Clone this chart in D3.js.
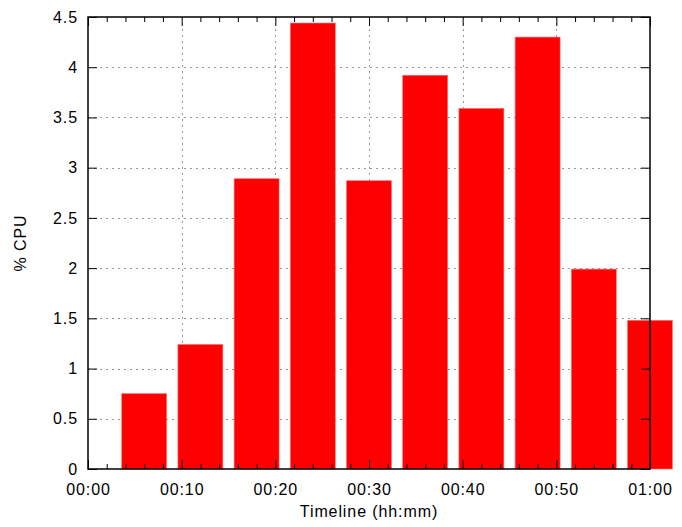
<!DOCTYPE html>
<html>
<head>
<meta charset="utf-8">
<script src="https://cdn.jsdelivr.net/npm/d3@7"></script>
<style>
  html, body { margin: 0; padding: 0; background: #fff; }
  svg { display: block; }
  text { font-family: "Liberation Sans", Arial, Helvetica, sans-serif; }
</style>
</head>
<body>
<svg id="chart" width="682" height="527"></svg>
<script>
// ---- data ----
const times = ["00:06", "00:12", "00:18", "00:24", "00:30", "00:36", "00:42", "00:48", "00:54", "01:00"];
const cpu = [0.75, 1.24, 2.89, 4.44, 2.87, 3.92, 3.59, 4.30, 1.99, 1.48];
const xTickLabels = ["00:00", "00:10", "00:20", "00:30", "00:40", "00:50", "01:00"];
const yTicks = [0, 0.5, 1, 1.5, 2, 2.5, 3, 3.5, 4, 4.5];
const xMinorLabels = ["00:02","00:04","00:06","00:08","00:12","00:14","00:16","00:18","00:22","00:24","00:26","00:28",
  "00:32","00:34","00:36","00:38","00:42","00:44","00:46","00:48","00:52","00:54","00:56","00:58"];
const xTitle = "Timeline (hh:mm)";
const yTitle = "% CPU";

// ---- layout ----
const svg = d3.select("#chart");
const m = { left: 88, right: 650, top: 17, bottom: 469 };
const parse = d3.utcParse("%H:%M");
const fmt = d3.utcFormat("%H:%M");
const FS = 16, LS = "0.9px";

const x = d3.scaleUtc().domain([parse("00:00"), parse("01:00")]).range([m.left, m.right]);
const y = d3.scaleLinear().domain([0, 4.5]).range([m.bottom, m.top]);

const xMajor = xTickLabels.map(parse);
const xMinor = xMinorLabels.map(parse);
const slot = 6 * 60 * 1000; // 6-minute sampling interval
const barW = x(new Date(slot * 0.8)) - x(new Date(0));

// ---- grid ----
const grid = svg.append("g").attr("stroke", "#9a9a9a").attr("stroke-width", 1).attr("stroke-dasharray", "2,4");
grid.selectAll("line.h").data(yTicks.filter(v => v > 0 && v < 4.5)).join("line")
  .attr("x1", m.left).attr("x2", m.right)
  .attr("y1", d => Math.round(y(d)) + 0.5).attr("y2", d => Math.round(y(d)) + 0.5);
grid.selectAll("line.v").data(xMajor.slice(1, -1)).join("line")
  .attr("y1", m.top).attr("y2", m.bottom)
  .attr("x1", d => Math.round(x(d)) + 0.5).attr("x2", d => Math.round(x(d)) + 0.5);

// ---- bars ----
svg.append("g").selectAll("rect").data(times.map((t, i) => ({ t: parse(t), v: cpu[i] }))).join("rect")
  .attr("x", d => x(d.t) - barW / 2)
  .attr("width", barW)
  .attr("y", d => y(d.v))
  .attr("height", d => y(0) - y(d.v))
  .attr("fill", "#ff0000")
  .attr("stroke", "#ff7070")
  .attr("stroke-width", 0.6);

// ---- axes (ticks inward, mirrored) ----
function styleAxis(g) {
  g.select(".domain").remove();
  g.selectAll(".tick line").attr("stroke", "#000").attr("stroke-width", 1);
  g.selectAll("text").attr("font-size", FS).attr("letter-spacing", LS).attr("fill", "#000");
}

svg.append("g").attr("transform", `translate(0,${m.bottom})`)
  .call(d3.axisBottom(x).tickValues(xMajor).tickFormat(fmt).tickSize(-9).tickPadding(15))
  .call(styleAxis);
svg.append("g").attr("transform", `translate(0,${m.bottom})`)
  .call(d3.axisBottom(x).tickValues(xMinor).tickFormat("").tickSize(-5))
  .call(styleAxis);
svg.append("g").attr("transform", `translate(0,${m.top})`)
  .call(d3.axisTop(x).tickValues(xMajor).tickFormat("").tickSize(-9))
  .call(styleAxis);
svg.append("g").attr("transform", `translate(0,${m.top})`)
  .call(d3.axisTop(x).tickValues(xMinor).tickFormat("").tickSize(-5))
  .call(styleAxis);
svg.append("g").attr("transform", `translate(${m.left},0)`)
  .call(d3.axisLeft(y).tickValues(yTicks).tickFormat(d3.format("")).tickSize(-9).tickPadding(10))
  .call(styleAxis);
svg.append("g").attr("transform", `translate(${m.right},0)`)
  .call(d3.axisRight(y).tickValues(yTicks).tickFormat("").tickSize(-9))
  .call(styleAxis);

// ---- frame ----
svg.append("rect")
  .attr("x", m.left).attr("y", m.top)
  .attr("width", m.right - m.left).attr("height", m.bottom - m.top)
  .attr("fill", "none").attr("stroke", "#000").attr("stroke-width", 1.5);

// ---- titles ----
svg.append("text").attr("x", (m.left + m.right) / 2).attr("y", 517)
  .attr("text-anchor", "middle").attr("font-size", FS).attr("letter-spacing", LS)
  .text(xTitle);
svg.append("text").attr("transform", `translate(26,${(m.top + m.bottom) / 2}) rotate(-90)`)
  .attr("text-anchor", "middle").attr("font-size", FS).attr("letter-spacing", LS)
  .text(yTitle);
</script>
</body>
</html>
